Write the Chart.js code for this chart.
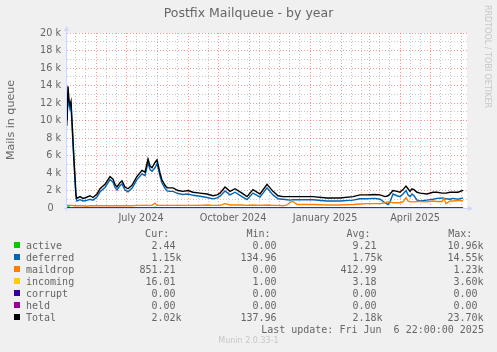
<!DOCTYPE html>
<html><head><meta charset="utf-8">
<script src="https://cdn.jsdelivr.net/npm/chart.js@4/dist/chart.umd.min.js"></script>
<style>
html,body{margin:0;padding:0;background:#f0f0f0;}
#wrap{position:relative;width:497px;height:352px;overflow:hidden;font-family:"DejaVu Sans",sans-serif;color:#666;}
canvas{position:absolute;left:0;top:0;}
.t{position:absolute;white-space:pre;}
.mono{font-family:"DejaVu Sans Mono",monospace;font-size:10px;line-height:12px;height:12px;}
.sq{position:absolute;width:6px;height:6px;}
</style></head><body>
<div id="wrap">
<canvas id="c" width="497" height="352"></canvas>
<div class="t" style="left:0;width:497px;top:4.7px;text-align:center;font-size:12.5px;line-height:16px;">Postfix Mailqueue - by year</div>
<div class="t" style="left:-88.8px;top:112.7px;width:200px;height:14px;line-height:14px;text-align:center;font-size:11.1px;transform:rotate(-90deg);">Mails in queue</div>
<div class="t" style="left:427.3px;top:60px;width:120px;height:10px;line-height:10px;font-size:8px;color:#c7c7c7;transform:rotate(90deg);">RRDTOOL / TOBI OETIKER</div>
<div id="legend"></div>
<div class="t" style="left:0;width:497px;top:336.2px;text-align:center;font-size:8px;line-height:10px;color:#c7c7c7;">Munin 2.0.33-1</div>
</div>
<script>
// ---- data (x = days since 2024-05-02 22:00, 400-day window) ----
const days = [0,1,2,3,4,5,7,9,10,13,
  16,19,23,26,30,33,38,43,46,48,
  50,53,55,58,61,65,70,75,78,81,
  83,85,88,90,93,95,98,100,103,106,
  111,116,121,126,133,140,146,150,153,158,
  163,168,175,180,186,193,200,206,211,216,
  220,223,226,230,233,246,260,273,286,293,
  300,308,313,318,321,323,326,330,333,336,
  339,341,343,345,347,350,353,360,366,370,
  375,377,379,383,386,391,396];
const total = [10000,13900,12300,11800,12200,10000,5500,1500,1100,1300,
  1100,1200,1400,1200,1600,2200,2700,3600,3300,2700,
  2400,2900,3100,2400,2200,2600,3600,4300,4100,5600,
  4800,4600,5200,5500,4000,3200,2600,2300,2300,2300,
  2000,1900,2000,1800,1700,1600,1400,1500,1700,2400,
  1900,2200,1700,1300,2100,1600,2700,1900,1400,1300,
  1300,1300,1300,1300,1300,1300,1150,1150,1300,1500,
  1500,1550,1500,1300,1400,1600,2000,1900,1800,2100,
  2500,2200,1900,2200,2100,1800,1700,1600,1800,1800,
  1700,1700,1700,1800,1800,1800,2020];
const deferred = [9400,13200,11800,11300,11700,9500,5100,1100,800,950,
  800,850,1000,900,1250,1850,2350,3250,2950,2350,
  2050,2550,2750,2050,1850,2250,3250,3900,3700,5200,
  4400,4200,4600,5100,3650,2850,2250,1950,1900,1900,
  1650,1550,1600,1450,1350,1200,1050,1150,1350,1950,
  1500,1800,1300,950,1700,1250,2300,1500,1050,1000,
  950,900,950,950,950,950,800,800,900,1050,
  1050,1100,1000,600,400,700,1600,1400,1300,1600,
  2000,1500,1300,1600,1400,900,800,900,1000,1100,
  1150,1100,1050,1000,1100,1000,1150];
const maildrop = [300,300,300,300,300,300,250,250,250,250,
  250,200,250,250,250,250,250,250,250,250,
  250,250,250,250,250,250,300,300,300,300,
  300,300,550,300,300,300,300,300,300,300,
  300,300,300,300,300,350,300,300,300,500,
  350,350,350,300,350,300,350,300,300,250,
  350,650,750,400,400,400,350,350,400,450,
  500,500,500,600,700,700,600,600,600,700,
  1200,800,700,700,700,750,750,700,800,750,
  750,1100,500,800,800,850,850];
const activeDays = [0,1,2,3,10,86,88,90,200,396];
const activeVals = [250,300,100,10,5,5,80,5,5,2];
const incomingDays = [0,50,100,200,300,396];
const incomingVals = [3,2,3,3,4,16];
const corruptDays = [0,396];
const corruptVals = [0,0];
const heldDays = [0,396];
const heldVals = [0,0];

const yTickLabels = ['0\u2002\u2005','2 k','4 k','6 k','8 k','10 k','12 k','14 k','16 k','18 k','20 k'];
const xTickLabels = ['July 2024','October 2024','January 2025','April 2025'];
const xTickMonths = [[2024,6],[2024,9],[2025,0],[2025,3]];

const seriesNames = ['active','deferred','maildrop','incoming','corrupt','held','Total'];
const seriesColors = ['#00CC00','#0066B3','#FF8000','#FFCC00','#330099','#990099','#000000'];
const curVals = ['2.44','1.15k','851.21','16.01','0.00','0.00','2.02k'];
const minVals = ['0.00','134.96','0.00','1.00','0.00','0.00','137.96'];
const avgVals = ['9.21','1.75k','412.99','3.18','0.00','0.00','2.18k'];
const maxVals = ['10.96k','14.55k','1.23k','3.60k','0.00','0.00','23.70k'];

// ---- legend ----
(function(){
  const lg = document.getElementById('legend');
  const colEnds = [181.6, 282.6, 382.6, 483.5];
  const hdrEnds = [169.2, 270.6, 370.6, 472.3];
  const hdr = ['Cur:','Min:','Avg:','Max:'];
  function txt(s, right, top){
    const d = document.createElement('div');
    d.className = 't mono';
    d.style.right = (497 - right) + 'px';
    d.style.top = top + 'px';
    d.textContent = s;
    lg.appendChild(d);
  }
  hdr.forEach((h,i)=>txt(h, hdrEnds[i], 227.8));
  const cols = [curVals, minVals, avgVals, maxVals];
  seriesNames.forEach((n,r)=>{
    const base = 249 + 12*r;
    const top = base - 9.5;
    const sq = document.createElement('div');
    sq.className = 'sq';
    sq.style.left = '14px'; sq.style.top = (base - 7) + 'px';
    sq.style.background = seriesColors[r];
    lg.appendChild(sq);
    const l = document.createElement('div');
    l.className = 't mono'; l.style.left = '26px'; l.style.top = top + 'px';
    l.textContent = n; lg.appendChild(l);
    cols.forEach((c,ci)=>{
      const v = c[r];
      txt(/k$/.test(v) ? v : v + ' ', colEnds[ci], top);
    });
  });
  txt('Last update: Fri Jun  6 22:00:00 2025', 483.9, 323.5);
})();

// ---- chart ----
const START = Date.UTC(2024, 4, 2, 22);
const dOff = (y,m,d) => (Date.UTC(y,m,d) - START) / 864e5;
const xTicks = [];
for (let k = 0; k < 15; k++) {
  const y = 2024 + Math.floor((4 + k) / 12), m = (4 + k) % 12;
  [1,11,21].forEach(dd=>{
    const v = dOff(y,m,dd);
    if (v >= 0 && v <= 400) xTicks.push({value:v, kind: dd === 1 ? 'major' : 'minor'});
  });
}
xTickMonths.forEach((ym,i)=>{
  xTicks.push({value: dOff(ym[0], ym[1], 1) + 15, kind:'label', text: xTickLabels[i]});
});
xTicks.sort((a,b)=>a.value-b.value);

const RED = 'rgba(222,79,79,0.55)';
const GRAY = 'rgba(143,143,143,0.5)';
const pts = (xs, ys) => xs.map((x,i)=>({x:x, y:ys[i]}));
const mk = (label, color, xs, ys, order) => ({
  label, data: pts(xs, ys), borderColor: color, backgroundColor: color,
  borderWidth: 1.4, pointRadius: 0, tension: 0, fill: false, order
});

const bgPlugin = {
  id: 'bg',
  beforeDraw(chart){
    const {ctx, chartArea: a} = chart;
    ctx.save(); ctx.fillStyle = '#ffffff';
    ctx.fillRect(a.left, a.top, a.right - a.left, a.bottom - a.top);
    ctx.restore();
  },
  beforeDatasetsDraw(chart){
    const {ctx, chartArea: a} = chart;
    ctx.save();
    ctx.strokeStyle = '#CFD6F8'; ctx.fillStyle = '#CFD6F8'; ctx.lineWidth = 1;
    ctx.beginPath();
    ctx.moveTo(a.left - 0.5, a.bottom + 3); ctx.lineTo(a.left - 0.5, a.top - 4);
    ctx.moveTo(a.left - 3, a.bottom + 0.5); ctx.lineTo(a.right + 3, a.bottom + 0.5);
    ctx.stroke();
    ctx.beginPath();
    ctx.moveTo(a.left - 3, a.top - 2); ctx.lineTo(a.left + 2, a.top - 2); ctx.lineTo(a.left - 0.5, a.top - 7); ctx.closePath(); ctx.fill();
    ctx.beginPath();
    ctx.moveTo(a.right + 1, a.bottom - 2); ctx.lineTo(a.right + 1, a.bottom + 3); ctx.lineTo(a.right + 6, a.bottom + 0.5); ctx.closePath(); ctx.fill();
    ctx.restore();
  }
};

new Chart(document.getElementById('c'), {
  type: 'line',
  data: { datasets: [
    mk('Total', '#000000', days, total, 0),
    mk('held', '#990099', heldDays, heldVals, 1),
    mk('corrupt', '#330099', corruptDays, corruptVals, 2),
    mk('incoming', '#FFCC00', incomingDays, incomingVals, 3),
    mk('maildrop', '#FF8000', days, maildrop, 4),
    mk('deferred', '#0066B3', days, deferred, 5),
    mk('active', '#00CC00', activeDays, activeVals, 6)
  ]},
  options: {
    responsive: false, animation: false, devicePixelRatio: 1,
    layout: { padding: { left: 0, top: 33, right: 30, bottom: 0 } },
    plugins: { legend: {display:false}, tooltip: {enabled:false}, title: {display:false} },
    scales: {
      x: {
        type: 'linear', min: 0, max: 400,
        afterBuildTicks: s => { s.ticks = xTicks.map(t => Object.assign({}, t)); },
        afterFit: s => { s.height = 144; },
        grid: {
          drawTicks: false, lineWidth: 1,
          color: c => c.tick ? (c.tick.kind === 'major' ? RED : c.tick.kind === 'minor' ? GRAY : 'rgba(0,0,0,0)') : GRAY,
          borderDash: [1,2]
        },
        border: { display: false, dash: [1,2] },
        ticks: {
          autoSkip: false, maxRotation: 0, minRotation: 0, padding: 5,
          color: '#666', font: { family: 'DejaVu Sans', size: 9.7 },
          callback: (v, i, ts) => ts[i] && ts[i].text ? ts[i].text : ''
        }
      },
      y: {
        type: 'linear', min: 0, max: 20000,
        afterFit: s => { s.width = 67; },
        grid: {
          drawTicks: false, lineWidth: 1,
          color: c => c.tick && c.tick.value % 2000 === 0 ? RED : GRAY,
          borderDash: [1,2]
        },
        border: { display: false, dash: [1,2] },
        ticks: {
          stepSize: 1000, autoSkip: false, padding: 6,
          color: '#666', font: { family: 'DejaVu Sans', size: 9.7 },
          callback: v => v % 2000 === 0 ? yTickLabels[v / 2000] : ''
        }
      }
    }
  },
  plugins: [bgPlugin]
});
</script>
</body></html>
